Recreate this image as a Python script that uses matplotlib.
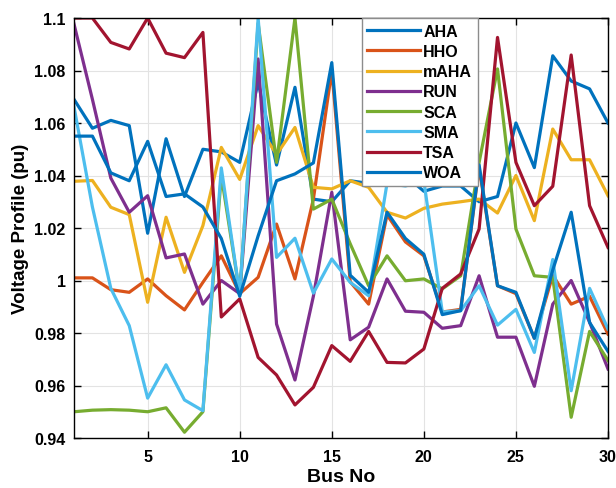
import numpy as np
import matplotlib
matplotlib.use("Agg")
import matplotlib.pyplot as plt

plt.rcParams['font.family'] = ['Liberation Sans', 'DejaVu Sans']
plt.rcParams['font.weight'] = 'bold'

bus = np.arange(1, 31)

# valores
aha = [1.069, 1.058, 1.061, 1.059, 1.018, 1.054, 1.032, 1.050, 1.049, 1.045,
       1.0755, 1.044, 1.0736, 1.031, 1.030, 1.038, 1.037, 1.052, 1.040, 1.034,
       1.036, 1.036, 1.030, 1.032, 1.060, 1.043, 1.0856, 1.076, 1.073, 1.060]
hho = [1.001, 1.001, 0.9965, 0.9955, 1.0006, 0.9942, 0.9888, 0.9993, 1.0094, 0.995,
       1.0012, 1.0215, 1.0006, 1.031, 1.080, 0.9995, 0.991, 1.025, 1.0147, 1.0094,
       0.988, 0.989, 1.043, 0.998, 0.995, 0.978, 1.002, 0.991, 0.994, 0.9796]
maha = [1.0378, 1.0381, 1.0279, 1.0251, 0.9917, 1.0241, 1.0031, 1.0209, 1.0507, 1.0385,
        1.059, 1.048, 1.0583, 1.0355, 1.0349, 1.038, 1.0355, 1.026, 1.0238, 1.0275,
        1.0291, 1.030, 1.031, 1.0257, 1.040, 1.0228, 1.0577, 1.046, 1.046, 1.0323]
run = [1.0977, 1.069, 1.039, 1.026, 1.0323, 1.0086, 1.0101, 0.991, 1.0, 0.995,
       1.0844, 0.9834, 0.9621, 0.994, 1.0336, 0.9774, 0.9822, 1.0006, 0.9883, 0.9879,
       0.9818, 0.9828, 1.0018, 0.9784, 0.9784, 0.9597, 0.991, 1.0, 0.9841, 0.9663]
sca = [0.950, 0.9506, 0.9508, 0.9506, 0.950, 0.9515, 0.9422, 0.950, 1.040, 0.995,
       1.098, 1.045, 1.1, 1.0272, 1.031, 1.014, 0.998, 1.0094, 0.9999, 1.0006,
       0.9968, 1.0018, 1.045, 1.0806, 1.0196, 1.0018, 1.0012, 0.9479, 0.9806, 0.9695]
sma = [1.0662, 1.028, 0.997, 0.9828, 0.9552, 0.9679, 0.9545, 0.9504, 1.0429, 0.995,
       1.1, 1.0088, 1.0161, 0.9952, 1.0082, 0.9993, 0.9942, 1.037, 1.036, 1.038,
       0.988, 0.9885, 0.998, 0.983, 0.989, 0.9726, 1.008, 0.958, 0.997, 0.9815]
tsa = [1.1, 1.1, 1.0907, 1.0882, 1.1, 1.0866, 1.0849, 1.0945, 0.9861, 0.993,
       0.9707, 0.964, 0.9526, 0.9593, 0.9752, 0.9692, 0.9806, 0.9688, 0.9686, 0.9739,
       0.997, 1.0025, 1.0196, 1.0926, 1.045, 1.0285, 1.0359, 1.0859, 1.0285, 1.0126]
woa = [1.055, 1.055, 1.041, 1.038, 1.053, 1.032, 1.033, 1.028, 1.016, 0.994,
       1.017, 1.038, 1.0406, 1.0448, 1.083, 1.002, 0.9955, 1.026, 1.016, 1.010,
       0.987, 0.9885, 1.044, 0.998, 0.9955, 0.978, 1.004, 1.026, 0.984, 0.973]

names = ["AHA", "HHO", "mAHA", "RUN", "SCA", "SMA", "TSA", "WOA"]
series = [aha, hho, maha, run, sca, sma, tsa, woa]
colors = ["#0072BD", "#D95319", "#EDB120", "#7E2F8E", "#77AC30", "#4DBEEE", "#A2142F", "#0072BD"]

yticks = [0.94, 0.96, 0.98, 1.0, 1.02, 1.04, 1.06, 1.08, 1.1]
ytick_labels = ["0.94", "0.96", "0.98", "1", "1.02", "1.04", "1.06", "1.08", "1.1"]
xticks = [5, 10, 15, 20, 25, 30]

fig = plt.figure(figsize=(6.16, 4.89), dpi=100)
ax = fig.add_axes([74 / 616, 1 - 439 / 489, 534 / 616, 420 / 489])

for name, vals, c in zip(names, series, colors):
    ax.plot(bus, vals, color=c, lw=2.3, label=name)

ax.set_xlim(1, 30)
ax.set_ylim(0.94, 1.1)
ax.set_xticks(xticks)
ax.set_yticks(yticks)
ax.set_yticklabels(ytick_labels)
ax.tick_params(direction='in', top=True, right=True, length=5, width=1,
               labelsize=11.5, pad=6)
ax.tick_params(axis='x', pad=8)
for lbl in ax.get_xticklabels() + ax.get_yticklabels():
    lbl.set_fontweight('bold')
ax.grid(True, color='#e3e3e3', lw=0.8)
ax.set_axisbelow(True)
for s in ax.spines.values():
    s.set_linewidth(1.0)

ax.set_xlabel("Bus No", fontsize=14, fontweight='bold', labelpad=3)
ax.set_ylabel("Voltage Profile (pu)", fontsize=13.5, fontweight='bold', labelpad=4)

leg = ax.legend(loc='upper left', bbox_to_anchor=(0.539, 1.0), fancybox=False,
                edgecolor='#8c8c8c', framealpha=1, borderaxespad=0,
                handlelength=3.3, handletextpad=0.2, labelspacing=0.33,
                borderpad=0.35, prop={'weight': 'bold', 'size': 11.5})
leg.get_frame().set_linewidth(1.0)

fig.savefig("out.png", dpi=100)
